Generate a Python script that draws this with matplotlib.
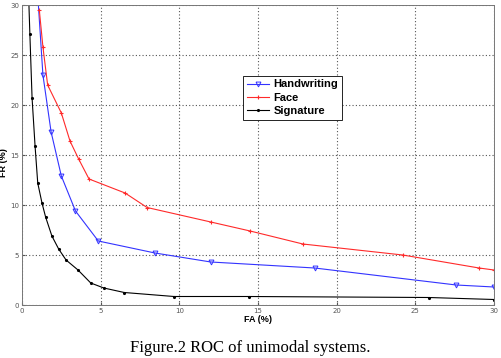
import matplotlib.pyplot as plt

# ROC curves of unimodal systems (FA %, FR %)
hand_fa = [1.0, 1.33, 1.85, 2.5, 3.4, 4.85, 8.45, 12.0, 18.6, 27.6, 30.0]
hand_fr = [31.0, 23.0, 17.3, 12.9, 9.4, 6.4, 5.2, 4.3, 3.7, 2.0, 1.8]

face_fa = [1.1, 1.33, 1.63, 2.5, 3.05, 3.6, 4.26, 6.55, 7.95, 12.0, 14.5, 17.85, 24.2, 29.05, 30.0]
face_fr = [29.5, 25.8, 22.0, 19.2, 16.4, 14.6, 12.6, 11.2, 9.75, 8.3, 7.4, 6.1, 5.0, 3.7, 3.5]

sig_fa = [0.42, 0.5, 0.64, 0.83, 1.0, 1.27, 1.5, 1.9, 2.33, 2.8, 3.56, 4.37, 5.2, 6.5, 9.66, 14.4, 25.85, 30.0]
sig_fr = [31.0, 27.1, 20.7, 15.9, 12.2, 10.2, 8.8, 6.9, 5.6, 4.5, 3.5, 2.2, 1.7, 1.25, 0.85, 0.85, 0.75, 0.55]

ticks = [0, 5, 10, 15, 20, 25, 30]

fig = plt.figure(figsize=(5.01, 3.58), dpi=100)
ax = fig.add_axes([22 / 501, 1 - 305 / 358, 472 / 501, 300 / 358])

ax.plot(hand_fa, hand_fr, color="#3333ff", lw=0.8, marker="v", ms=3.5,
        mfc="none", mew=0.7, label="Handwriting")
ax.plot(face_fa, face_fr, color="#ff2a2a", lw=0.8, marker="+", ms=3,
        mew=0.8, label="Face")
ax.plot(sig_fa, sig_fr, color="black", lw=0.8, marker=".", ms=2.5,
        label="Signature")

ax.set_xlim(0, 30)
ax.set_ylim(0, 30)
ax.set_xticks(ticks)
ax.set_yticks(ticks)
ax.tick_params(direction="in", length=2, labelsize=5, labelcolor="#555555",
               color="#555555", pad=2)
ax.grid(True, linestyle=(0, (1, 2)), color="#555555", linewidth=0.8)
for s in ax.spines.values():
    s.set_color("#777777")
    s.set_linewidth(0.7)

ax.set_xlabel("FA (%)", fontsize=6.5, fontweight="bold", family="Liberation Sans", labelpad=1)
ax.set_ylabel("FR (%)", fontsize=6.5, fontweight="bold", family="Liberation Sans")
ax.yaxis.set_label_coords(-0.029, 0.475)

leg = ax.legend(loc="upper left", bbox_to_anchor=(0.468, 0.765),
                prop={"family": "Liberation Sans", "weight": "bold", "size": 8},
                fancybox=False, framealpha=1, edgecolor="black",
                handlelength=2.0, handletextpad=0.4, labelspacing=0.3,
                borderpad=0.35, borderaxespad=0)
leg.get_frame().set_linewidth(0.6)

fig.text(0.5, 1 - 348 / 358, "Figure.2 ROC of unimodal systems.",
         ha="center", va="center", fontsize=12, family="Liberation Serif")

fig.savefig("out.png", dpi=100)
